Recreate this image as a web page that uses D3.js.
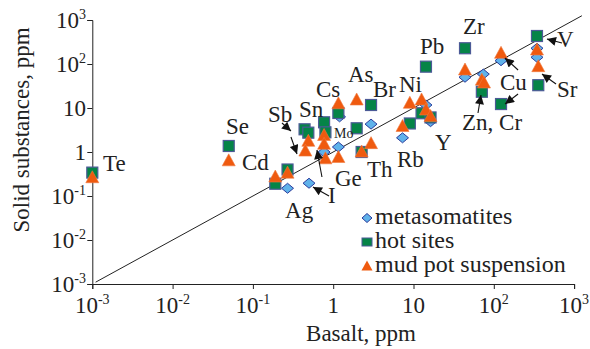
<!DOCTYPE html>
<html>
<head>
<meta charset="utf-8">
<script src="https://cdn.jsdelivr.net/npm/d3@7"></script>
<style>
  body { margin: 0; background: #fff; }
  text { font-family: "Liberation Serif", "Times New Roman", serif; fill: #222; }
</style>
</head>
<body>
<svg id="chart" width="590" height="349"></svg>
<script>
// basalt ppm vs solid substances ppm, three sample groups
const metasomatites = [
  [0.27, 0.15], [0.5, 0.195], [0.77, 1.0], [1.16, 1.3], [1.2, 6.3], [2.96, 4.3],
  [7.3, 2.1], [14.3, 11.7], [16.3, 4.9], [43.8, 50], [74, 59], [123, 119],
  [345, 228], [345, 142],
]
const hotSites = [
  [0.001, 0.34], [0.05, 1.37], [0.19, 0.19], [0.27, 0.4], [0.44, 3.28], [0.49, 2.75],
  [0.77, 4.73], [0.8, 2.8], [1.16, 7.7], [1.96, 3.46], [2.96, 11.7], [2.26, 1.0],
  [9.0, 4.45], [12.6, 7.6], [16.3, 6.1], [14.3, 87], [43.8, 228], [71, 23.4],
  [123, 12.3], [345, 433], [358, 33],
]
const mudPot = [
  [0.001, 0.26], [0.05, 0.63], [0.19, 0.27], [0.27, 0.33], [0.49, 1.75], [0.45, 1.05],
  [0.77, 2.37], [0.77, 1.5], [0.8, 0.7], [1.16, 12.5], [1.16, 0.75], [1.96, 15.2],
  [2.26, 1.0], [2.96, 1.55], [7.3, 3.8], [9.0, 12.8], [12.6, 15.2], [14.3, 9.0],
  [16.3, 6.4], [43.8, 73], [71, 43], [75.5, 37], [123, 175], [345, 208], [358, 87],
]

const tickValues = [1e-3, 1e-2, 1e-1, 1, 10, 1e2, 1e3]
const tickLabels = [['10', '-3'], ['10', '-2'], ['10', '-1'], ['1', ''], ['10', ''], ['10', '2'], ['10', '3']]

// element labels, positions given as log10 of the axis values
const labels = [
  { t: 'Te', lx: -2.867, ly: -0.443 }, { t: 'Se', lx: -1.335, ly: 0.42 },
  { t: 'Cd', lx: -1.136, ly: -0.409 }, { t: 'Sb', lx: -0.812, ly: 0.689 },
  { t: 'Sn', lx: -0.426, ly: 0.795 }, { t: 'Cs', lx: -0.214, ly: 1.25 },
  { t: 'As', lx: 0.184, ly: 1.602 }, { t: 'Br', lx: 0.496, ly: 1.257 },
  { t: 'Ni', lx: 0.819, ly: 1.37 }, { t: 'Pb', lx: 1.081, ly: 2.227 },
  { t: 'Zr', lx: 1.616, ly: 2.682 }, { t: 'V', lx: 2.787, ly: 2.393 },
  { t: 'Cu', lx: 2.077, ly: 1.409 }, { t: 'Sr', lx: 2.787, ly: 1.257 },
  { t: 'Zn, Cr', lx: 1.604, ly: 0.5 }, { t: 'Y', lx: 1.268, ly: 0.045 },
  { t: 'Rb', lx: 0.795, ly: -0.334 }, { t: 'Th', lx: 0.421, ly: -0.561 },
  { t: 'Ge', lx: 0.022, ly: -0.773 }, { t: 'I', lx: -0.065, ly: -1.159 },
  { t: 'Ag', lx: -0.6, ly: -1.5 }, { t: 'Mo', lx: 0.01, ly: 0.318, small: true },
]

// arrows: [from lx, from ly, to lx, to ly]
const arrows = [
  [-0.638, 0.659, -0.526, 0.477], [-0.526, 0.341, -0.451, -0.045],
  [-0.14, -0.568, -0.202, 0.045], [-0.052, -1.0, -0.252, -0.795],
  [2.302, 1.864, 2.14, 2.136], [2.849, 2.477, 2.662, 2.568],
  [2.775, 1.545, 2.6, 1.773], [1.803, 0.886, 1.84, 1.295],
  [2.302, 1.318, 2.14, 1.091],
]

const legendItems = ['metasomatites', 'hot sites', 'mud pot suspension']

const svg = d3.select('#chart')
const x = d3.scaleLog().domain([1e-3, 1e3]).range([92.3, 574.1])
const y = d3.scaleLog().domain([1e-3, 1e3]).range([284, 20])

const diamond = 'M0,-5L6,0L0,5L-6,0Z'
const triangle = 'M0,-7L6.5,5L-6.5,5Z'

// 1:1 line
svg.append('line')
  .attr('x1', x(1.1e-3)).attr('y1', y(1.1e-3))
  .attr('x2', x(1.25e3)).attr('y2', y(1.25e3))
  .attr('stroke', '#222').attr('stroke-width', 1)

// axes
const xAxis = svg.append('g').attr('transform', 'translate(0,284)')
  .call(d3.axisBottom(x).tickValues(tickValues).tickSize(5).tickFormat(''))
const yAxis = svg.append('g').attr('transform', 'translate(92.3,0)')
  .call(d3.axisLeft(y).tickValues(tickValues).tickSize(5).tickFormat(''))
for (const g of [xAxis, yAxis]) {
  g.select('.domain').attr('stroke', '#222')
  g.selectAll('.tick line').attr('stroke', '#222')
}

tickValues.forEach((v, i) => {
  const [base, exp] = tickLabels[i]
  const tx = svg.append('text').attr('x', x(v)).attr('y', 313)
    .attr('text-anchor', 'middle').attr('font-size', 23)
  tx.append('tspan').text(base)
  if (exp) tx.append('tspan').attr('dy', -9).attr('font-size', 14).text(exp)

  const ty = svg.append('text').attr('x', 86).attr('y', y(v) + 7.5)
    .attr('text-anchor', 'end').attr('font-size', 23)
  ty.append('tspan').text(base)
  if (exp) ty.append('tspan').attr('dy', -9).attr('font-size', 14).text(exp)
})

svg.append('text').attr('x', 361).attr('y', 341)
  .attr('text-anchor', 'middle').attr('font-size', 23).text('Basalt, ppm')
svg.append('text').attr('transform', 'translate(29,130) rotate(-90)')
  .attr('text-anchor', 'middle').attr('font-size', 23).text('Solid substances, ppm')

// markers
svg.append('g').selectAll('path').data(metasomatites).join('path')
  .attr('d', diamond)
  .attr('transform', d => `translate(${x(d[0])},${y(d[1])})`)
  .attr('fill', '#5fb2ea').attr('stroke', '#2b3c9c').attr('stroke-width', 1)

svg.append('g').selectAll('rect').data(hotSites).join('rect')
  .attr('x', d => x(d[0]) - 5.5).attr('y', d => y(d[1]) - 5.5)
  .attr('width', 11).attr('height', 11)
  .attr('fill', '#058447').attr('stroke', '#4b5a96').attr('stroke-width', 1.2)

svg.append('g').selectAll('path').data(mudPot).join('path')
  .attr('d', triangle)
  .attr('transform', d => `translate(${x(d[0])},${y(d[1])})`)
  .attr('fill', '#ef5a0f').attr('stroke', '#f07a40').attr('stroke-width', 0.6)

// arrows
svg.append('defs').append('marker')
  .attr('id', 'head').attr('viewBox', '0 -5 10 10')
  .attr('refX', 10).attr('refY', 0)
  .attr('markerWidth', 11).attr('markerHeight', 9)
  .attr('markerUnits', 'userSpaceOnUse').attr('orient', 'auto')
  .append('path').attr('d', 'M0,-5L10,0L0,5Z').attr('fill', '#111')

svg.append('g').selectAll('line').data(arrows).join('line')
  .attr('x1', d => x(10 ** d[0])).attr('y1', d => y(10 ** d[1]))
  .attr('x2', d => x(10 ** d[2])).attr('y2', d => y(10 ** d[3]))
  .attr('stroke', '#111').attr('stroke-width', 1.1)
  .attr('marker-end', 'url(#head)')

// element labels
svg.append('g').selectAll('text').data(labels).join('text')
  .attr('x', d => x(10 ** d.lx)).attr('y', d => y(10 ** d.ly))
  .attr('font-size', d => (d.small ? 14 : 23))
  .text(d => d.t)

// legend
const legend = svg.append('g')
legendItems.forEach((name, i) => {
  const cy = 218 + i * 24
  if (i === 0) {
    legend.append('path').attr('d', 'M0,-4.5L5,0L0,4.5L-5,0Z')
      .attr('transform', `translate(367,${cy})`)
      .attr('fill', '#5fb2ea').attr('stroke', '#2b3c9c')
  } else if (i === 1) {
    legend.append('rect').attr('x', 362).attr('y', cy - 4).attr('width', 10).attr('height', 8)
      .attr('fill', '#058447').attr('stroke', '#4b5a96')
  } else {
    legend.append('path').attr('d', 'M0,-5.5L5.5,4.5L-5.5,4.5Z')
      .attr('transform', `translate(367,${cy})`)
      .attr('fill', '#ef5a0f')
  }
  legend.append('text').attr('x', 375).attr('y', cy + 6)
    .attr('font-size', 24).text(name)
})
</script>
</body>
</html>
